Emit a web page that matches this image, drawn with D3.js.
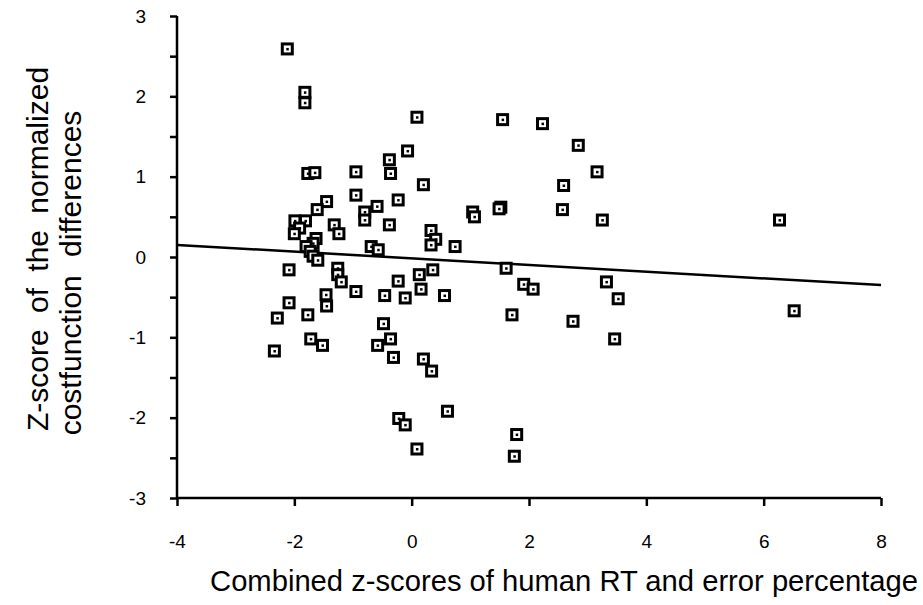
<!DOCTYPE html>
<html>
<head>
<meta charset="utf-8">
<script src="https://cdn.jsdelivr.net/npm/d3@7"></script>
<style>
  body { margin: 0; background: #fff; }
  text { font-family: "Liberation Sans", Arial, sans-serif; fill: #000; }
</style>
</head>
<body>
<div id="chart"></div>
<script>
const width = 923
const height = 605

// combined z-score (x) and z-score of cost function differences (y)
const xValues = [
    -2.12, -1.82, -1.82, 0.09, 1.55, 2.23, 2.84, -0.07, -0.38, -0.36,
    -0.95, -1.77, -1.65, 3.16, 0.20, 2.59, -0.95, -0.23, -1.45, -0.59,
    -1.61, -0.80, -0.80, 1.04, 1.07, 1.52, 1.49, 2.57, 3.25, 6.27,
    -1.99, -1.81, -1.91, -2.00, -1.32, -1.24, -0.38, 0.33, 0.41, 0.33,
    0.74, -1.63, -1.68, -1.80, -1.73, -1.68, -1.60, -0.69, -0.57, -2.09,
    -1.26, -1.26, -1.20, 0.13, 0.36, -0.23, 1.61, 1.91, 2.07, 3.32,
    3.52, 0.16, -0.11, -0.46, 0.56, -0.95, -1.46, -1.45, -2.09, 1.71,
    2.75, 3.46, 6.52, -2.29, -1.77, -0.48, -0.36, -1.72, -1.52, -0.58,
    -0.31, -2.34, 0.20, 0.34, 0.61, -0.22, -0.11, 0.09, 1.79, 1.75
]
const yValues = [
    2.59, 2.05, 1.92, 1.74, 1.71, 1.66, 1.39, 1.32, 1.21, 1.04,
    1.06, 1.04, 1.05, 1.06, 0.90, 0.89, 0.77, 0.71, 0.69, 0.63,
    0.59, 0.56, 0.46, 0.56, 0.50, 0.62, 0.60, 0.59, 0.46, 0.46,
    0.45, 0.45, 0.36, 0.29, 0.40, 0.29, 0.40, 0.33, 0.22, 0.15,
    0.13, 0.23, 0.17, 0.13, 0.07, 0.01, -0.04, 0.13, 0.09, -0.16,
    -0.14, -0.22, -0.31, -0.22, -0.16, -0.30, -0.14, -0.34, -0.40, -0.31,
    -0.52, -0.40, -0.51, -0.48, -0.48, -0.43, -0.47, -0.61, -0.57, -0.72,
    -0.80, -1.02, -0.67, -0.76, -0.72, -0.83, -1.02, -1.02, -1.10, -1.10,
    -1.25, -1.17, -1.27, -1.42, -1.92, -2.01, -2.09, -2.39, -2.21, -2.48
]

// regression line end points
const fitX = [-4, 8]
const fitY = [0.15, -0.35]

const xTicks = [-4, -2, 0, 2, 4, 6, 8]
const yTicks = [-3, -2.5, -2, -1.5, -1, -0.5, 0, 0.5, 1, 1.5, 2, 2.5, 3]

const xTitle = "Combined z-scores of human RT and error percentage"
const yTitle = ["Z-score of the normalized", "costfunction differences"]

const svg = d3.select("div#chart").append("svg").attr("width", width).attr("height", height)

const x = d3.scaleLinear().domain([-4, 8]).range([177, 881])
const y = d3.scaleLinear().domain([-3, 3]).range([498, 16])

const xAxis = d3.axisBottom(x).tickValues(xTicks).tickSize(8).tickPadding(29)
    .tickFormat(d => String(d))
const yAxis = d3.axisLeft(y).tickValues(yTicks).tickSize(7).tickPadding(24)
    .tickFormat(d => Number.isInteger(d) ? String(d) : "")

const xAxisGroup = svg.append("g").attr("transform", `translate(0, ${y(-3)})`).call(xAxis)
const yAxisGroup = svg.append("g").attr("transform", `translate(${x(-4)}, 0)`).call(yAxis)

;[xAxisGroup, yAxisGroup].forEach(g => {
    g.attr("font-size", 19).attr("font-family", "Liberation Sans, Arial, sans-serif")
    g.select(".domain").attr("stroke", "#000").attr("stroke-width", 2.5)
    g.selectAll(".tick line").attr("stroke", "#000").attr("stroke-width", 2.5)
})
xAxisGroup.select(".domain").attr("d", `M${x(-4)},0H${x(8)}`)
yAxisGroup.select(".domain").attr("d", `M0,${y(3)}V${y(-3)}`)

// fitted line
svg.append("path")
    .datum(fitX.map((d, i) => [d, fitY[i]]))
    .attr("fill", "none")
    .attr("stroke", "#000")
    .attr("stroke-width", 2.5)
    .attr("d", d3.line().x(d => x(d[0])).y(d => y(d[1])))

// square markers with a small centre dot
const pts = xValues.map((d, i) => ({x: d, y: yValues[i]}))
const marks = svg.append("g").selectAll("g").data(pts).join("g")
    .attr("transform", d => `translate(${x(d.x)}, ${y(d.y)})`)
marks.append("rect")
    .attr("x", -5).attr("y", -5).attr("width", 10).attr("height", 10)
    .attr("fill", "#fff").attr("stroke", "#000").attr("stroke-width", 3)
marks.append("rect")
    .attr("x", -1).attr("y", -1).attr("width", 2.5).attr("height", 2.5)
    .attr("fill", "#000")

// titles
svg.append("text")
    .attr("x", 564).attr("y", 591)
    .attr("text-anchor", "middle")
    .attr("font-size", 29.2)
    .text(xTitle)

svg.append("text")
    .attr("transform", "translate(48, 249) rotate(-90)")
    .attr("text-anchor", "middle")
    .attr("font-size", 30)
    .attr("word-spacing", 8)
    .text(yTitle[0])

svg.append("text")
    .attr("transform", "translate(81, 273) rotate(-90)")
    .attr("text-anchor", "middle")
    .attr("font-size", 30)
    .attr("word-spacing", 10)
    .text(yTitle[1])
</script>
</body>
</html>
